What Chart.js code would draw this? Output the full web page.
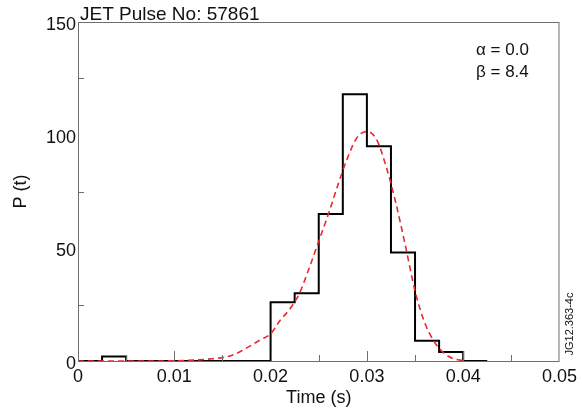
<!DOCTYPE html>
<html>
<head>
<meta charset="utf-8">
<script src="https://cdn.jsdelivr.net/npm/chart.js@4/dist/chart.umd.min.js"></script>
<style>
  html, body { margin: 0; padding: 0; background: #ffffff; }
  #wrap { width: 582px; height: 413px; }
</style>
</head>
<body>
<div id="wrap"><canvas id="canvas" width="582" height="413"></canvas></div>
<script>
// histogram bins (left edge of each bin, s) and counts
var binStarts = [0, 0.0025, 0.005, 0.0075, 0.01, 0.0125, 0.015, 0.0175, 0.02, 0.0225,
                 0.025, 0.0275, 0.03, 0.0325, 0.035, 0.0375, 0.04, 0.0425];
var binCounts = [0, 2, 0, 0, 0, 0, 0, 0, 26, 30, 65, 118, 95, 48, 9, 4, 0, 0];

// fitted curve
var fitTime = [0, 0.005, 0.008, 0.010, 0.012, 0.014, 0.015, 0.016, 0.017, 0.018, 0.019,
               0.020, 0.021, 0.022, 0.023, 0.024, 0.025, 0.026, 0.027, 0.028, 0.029,
               0.030, 0.031, 0.032, 0.033, 0.034, 0.035, 0.036, 0.037, 0.038, 0.039, 0.040];
var fitP = [0, 0, 0, 0.1, 0.4, 1, 1.5, 2.5, 4.5, 7, 9.5,
            12, 18, 23, 30, 41, 53, 65, 78, 90, 99,
            101.5, 98, 86, 70, 51, 31, 17, 8.5, 3.5, 1, 0.2];

var xTicks = [0, 0.01, 0.02, 0.03, 0.04, 0.05];
var yTicks = [0, 50, 100, 150];
var xMinorMarks = [0.005, 0.01, 0.015, 0.02, 0.025, 0.03, 0.035, 0.04, 0.045];
var yMinorMarks = [25, 75, 125];

var FONT = 'Liberation Sans, Arial, sans-serif';

var histData = binStarts.map(function(t, i) { return {x: t, y: binCounts[i]}; });
var fitData = fitTime.map(function(t, i) { return {x: t, y: fitP[i]}; });

var framePlugin = {
  id: 'frame',
  afterDatasetsDraw: function(chart) {
    var ctx = chart.ctx, a = chart.chartArea;
    var xs = chart.scales.x, ys = chart.scales.y;
    ctx.save();
    ctx.strokeStyle = '#6e6e6e';
    ctx.lineWidth = 1;
    ctx.strokeRect(a.left + 0.5, a.top + 0.5, a.right - a.left - 1, a.bottom - a.top);
    ctx.beginPath();
    xMinorMarks.forEach(function(v) {
      var px = Math.round(xs.getPixelForValue(v)) + 0.5;
      var len = (Math.abs(v * 100 - Math.round(v * 100)) < 1e-6) ? 10 : 6;
      ctx.moveTo(px, a.bottom);
      ctx.lineTo(px, a.bottom - len);
    });
    yMinorMarks.forEach(function(v) {
      var py = Math.round(ys.getPixelForValue(v)) + 0.5;
      ctx.moveTo(a.left, py);
      ctx.lineTo(a.left + 6, py);
    });
    ctx.stroke();

    ctx.fillStyle = '#111';
    ctx.textBaseline = 'alphabetic';
    ctx.textAlign = 'left';
    ctx.font = '19px ' + FONT;
    ctx.fillText('JET Pulse No: 57861', 80, 20);
    ctx.font = '17px ' + FONT;
    ctx.fillText('\u03b1 = 0.0', 476, 55);
    ctx.fillText('\u03b2 = 8.4', 476, 77);

    ctx.translate(573, 324);
    ctx.rotate(-Math.PI / 2);
    ctx.textAlign = 'center';
    ctx.font = '11px ' + FONT;
    ctx.fillText('JG12.363-4c', 0, 0);
    ctx.restore();
  }
};

var ctx = document.getElementById('canvas').getContext('2d');
var chart = new Chart(ctx, {
  type: 'line',
  data: {
    datasets: [{
      label: 'histogram',
      data: histData,
      stepped: 'before',
      borderColor: '#000000',
      borderWidth: 2,
      pointRadius: 0,
      fill: false,
      order: 1
    }, {
      label: 'fit',
      data: fitData,
      borderColor: '#ea2a2e',
      borderWidth: 1.6,
      borderDash: [6, 4],
      cubicInterpolationMode: 'monotone',
      pointRadius: 0,
      fill: false,
      order: 0
    }]
  },
  plugins: [framePlugin],
  options: {
    responsive: false,
    animation: false,
    devicePixelRatio: 1,
    layout: { padding: { top: 22, right: 22, left: 0, bottom: 0 } },
    plugins: {
      legend: { display: false },
      tooltip: { enabled: false },
      title: { display: false }
    },
    scales: {
      x: {
        type: 'linear',
        min: 0,
        max: 0.05,
        afterFit: function(s) { s.height = 52; },
        afterBuildTicks: function(s) { s.ticks = xTicks.map(function(v) { return {value: v}; }); },
        grid: { display: false, drawTicks: false },
        border: { display: false },
        ticks: {
          padding: 5,
          color: '#111',
          maxRotation: 0,
          font: { family: FONT, size: 18 },
          callback: function(v) { return v === 0 ? '0' : v.toFixed(2); }
        },
        title: {
          display: true,
          text: 'Time (s)',
          color: '#111',
          font: { family: FONT, size: 18 },
          padding: { top: 0, bottom: 4 }
        }
      },
      y: {
        type: 'linear',
        min: 0,
        max: 150,
        afterFit: function(s) { s.width = 78; },
        afterBuildTicks: function(s) { s.ticks = yTicks.map(function(v) { return {value: v}; }); },
        grid: { display: false, drawTicks: false },
        border: { display: false },
        ticks: {
          padding: 2,
          labelOffset: 3,
          color: '#111',
          font: { family: FONT, size: 18 }
        },
        title: {
          display: true,
          text: 'P (t)',
          color: '#111',
          font: { family: FONT, size: 18 },
          padding: { top: 10, bottom: 0 }
        }
      }
    }
  }
});
</script>
</body>
</html>
